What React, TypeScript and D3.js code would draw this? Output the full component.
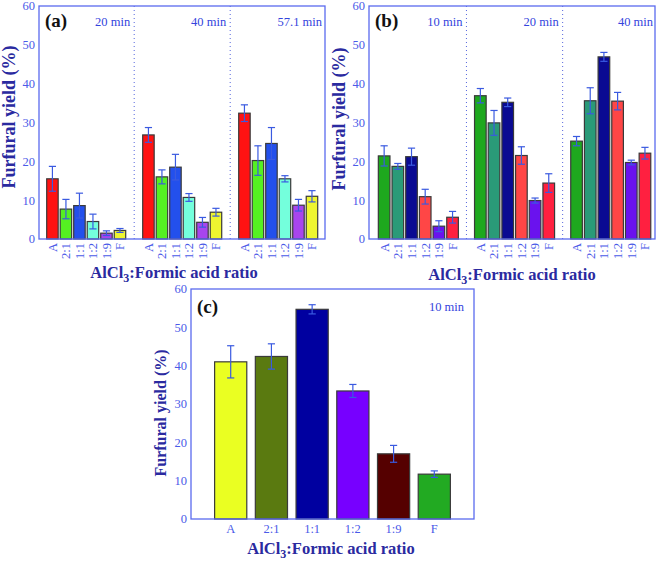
import React from "react";
import * as d3 from "d3";

const categories = ["A", "2:1", "1:1", "1:2", "1:9", "F"];
const yTicks = [0, 10, 20, 30, 40, 50, 60];

const aTimes = ["20 min", "40 min", "57.1 min"];
const aValues = [
  [15.5, 7.7, 8.6, 4.5, 1.5, 2.2],
  [26.8, 16.0, 18.5, 10.7, 4.3, 6.9],
  [32.4, 20.2, 24.6, 15.5, 8.7, 11.0],
];
const aErrors = [
  [3.2, 2.5, 3.2, 1.9, 0.6, 0.5],
  [1.9, 1.8, 3.3, 1.0, 1.25, 1.0],
  [2.15, 3.8, 4.1, 0.8, 1.5, 1.45],
];
const aColors = ["#ff1212", "#55f022", "#2350ec", "#74ffdc", "#a845ee", "#eef530"];

const bTimes = ["10 min", "20 min", "40 min"];
const bValues = [
  [21.4, 18.7, 21.2, 10.9, 3.3, 5.6],
  [36.9, 29.9, 35.2, 21.5, 9.9, 14.4],
  [25.2, 35.6, 46.9, 35.5, 19.7, 22.1],
];
const bErrors = [
  [2.6, 0.75, 2.2, 1.9, 1.4, 1.5],
  [1.85, 3.2, 1.1, 2.25, 0.65, 2.4],
  [1.2, 3.35, 1.15, 2.25, 0.6, 1.5],
];
const bColors = ["#1ea81e", "#2a9a78", "#0a0a92", "#ff4646", "#6a12ee", "#ff2040"];

const cTimes = ["10 min"];
const cValues = [[41.0, 42.4, 54.7, 33.4, 17.0, 11.7]];
const cErrors = [[4.2, 3.3, 1.2, 1.7, 2.2, 0.85]];
const cColors = ["#eaff22", "#5a7a10", "#0000a0", "#7700ff", "#550000", "#22aa22"];

const FONT = "Liberation Serif";
const TICK = "#4a5ae8";
const FRAME = "#5a6aee";
const TITLE = "#2a2aa0";
const ERR = "#3a5ae0";

type PanelProps = {
  x0: number; x1: number; y0: number; y1: number;
  groupRange: [number, number]; gPadIn: number; gPadOut: number;
  bPadIn: number; bPadOut: number;
  values: number[][]; errors: number[][]; colors: string[]; times: string[];
  label: string; labelX: number; labelY: number;
  rotated: boolean; titleX: number; titleY: number;
  yTitleX: number; yTitleY: number; yTitleSize: number; timeY: number; timePad: number;
};

const boldStyle = { fontFamily: FONT, fontWeight: 700 as const };

function Panel(p: PanelProps) {
  const y = d3.scaleLinear().domain([0, 60]).range([p.y1, p.y0]);
  const gx = d3.scaleBand<number>()
    .domain(p.values.map((_, i) => i))
    .range(p.groupRange)
    .paddingInner(p.gPadIn)
    .paddingOuter(p.gPadOut);
  const bx = d3.scaleBand<string>()
    .domain(categories)
    .range([0, gx.bandwidth()])
    .paddingInner(p.bPadIn)
    .paddingOuter(p.bPadOut);
  const bw = bx.bandwidth();
  const gap = gx.step() - gx.bandwidth();
  const cap = 3.6;
  return (
    <g style={{ fontFamily: FONT }}>
      {yTicks.map((t) => (
        <text key={t} x={p.x0 - 4} y={y(t)} dy="0.35em" textAnchor="end" fontSize={12.5} fill={TICK}>
          {t}
        </text>
      ))}
      {p.values.map((_, gi) =>
        gi > 0 ? (
          <line key={"d" + gi} x1={(gx(gi) as number) - gap / 2} x2={(gx(gi) as number) - gap / 2}
            y1={p.y0} y2={p.y1} stroke="#5566dd" strokeWidth={1} strokeDasharray="1,3" />
        ) : null
      )}
      {p.values.map((vals, gi) =>
        vals.map((v, ci) => {
          const cx = (gx(gi) as number) + (bx(categories[ci]) as number);
          const e = p.errors[gi][ci];
          const mid = cx + bw / 2;
          return (
            <g key={gi + "-" + ci}>
              <rect x={cx} y={y(v)} width={bw} height={y(0) - y(v)} fill={p.colors[ci]}
                stroke="#3a3a3a" strokeWidth={1.2} />
              <line x1={mid} x2={mid} y1={y(v + e)} y2={y(v - e)} stroke={ERR} strokeWidth={1.2} />
              <line x1={mid - cap} x2={mid + cap} y1={y(v + e)} y2={y(v + e)} stroke={ERR} strokeWidth={1.2} />
              <line x1={mid - cap} x2={mid + cap} y1={y(v - e)} y2={y(v - e)} stroke={ERR} strokeWidth={1.2} />
            </g>
          );
        })
      )}
      {p.values.map((_, gi) =>
        categories.map((c) => {
          const mid = (gx(gi) as number) + (bx(c) as number) + bw / 2;
          return p.rotated ? (
            <text key={"t" + gi + c} transform={`translate(${mid},${p.y1 + 4}) rotate(-90)`}
              textAnchor="end" dy="0.35em" fontSize={12.5} fill={TICK}>
              {c}
            </text>
          ) : (
            <text key={"t" + gi + c} x={mid} y={p.y1 + 14} textAnchor="middle" fontSize={12.5} fill={TICK}>
              {c}
            </text>
          );
        })
      )}
      {p.times.map((t, gi) => {
        const right = gi < p.times.length - 1 ? (gx(gi + 1) as number) - gap / 2 - 4 : p.x1 - p.timePad;
        return (
          <text key={"tm" + gi} x={right} y={p.timeY} textAnchor="end" fontSize={12.5} fill="#3344dd">
            {t}
          </text>
        );
      })}
      <rect x={p.x0} y={p.y0} width={p.x1 - p.x0} height={p.y1 - p.y0} fill="none" stroke={FRAME} strokeWidth={1.3} />
      <text x={p.labelX} y={p.labelY} fontSize={19} style={boldStyle} fill="#111">{p.label}</text>
      <text x={p.titleX} y={p.titleY} textAnchor="middle" fontSize={16.5} style={boldStyle} fill={TITLE}>
        AlCl<tspan fontSize={12} dy={4}>3</tspan><tspan dy={-4}>:Formic acid ratio</tspan>
      </text>
      <text transform={`translate(${p.yTitleX},${p.yTitleY}) rotate(-90)`} textAnchor="middle" dy="0.35em"
        fontSize={p.yTitleSize} style={boldStyle} fill={TITLE}>
        Furfural yield (%)
      </text>
    </g>
  );
}

export default function App() {
  return (
    <svg width={661} height={562} style={{ position: "absolute", left: 0, top: 0, background: "#fff" }}>
      <rect width={661} height={562} fill="#fff" />
      <Panel x0={39} x1={325} y0={6} y1={239}
        groupRange={[39.2, 325.2]} gPadIn={0.177} gPadOut={0.078} bPadIn={0.15} bPadOut={0}
        values={aValues} errors={aErrors} colors={aColors} times={aTimes}
        label="(a)" labelX={45} labelY={27} rotated={true} titleX={174} titleY={278}
        yTitleX={9} yTitleY={117} yTitleSize={18} timeY={26} timePad={3} />
      <Panel x0={369} x1={655} y0={6} y1={239}
        groupRange={[371.6, 657.5]} gPadIn={0.168} gPadOut={0.07} bPadIn={0.15} bPadOut={0}
        values={bValues} errors={bErrors} colors={bColors} times={bTimes}
        label="(b)" labelX={375} labelY={27} rotated={true} titleX={512} titleY={280}
        yTitleX={339} yTitleY={119} yTitleSize={18} timeY={26} timePad={2} />
      <Panel x0={191} x1={474} y0={289} y1={519}
        groupRange={[191, 474]} gPadIn={0} gPadOut={0} bPadIn={0.21} bPadOut={0.58}
        values={cValues} errors={cErrors} colors={cColors} times={cTimes}
        label="(c)" labelX={197} labelY={313} rotated={false} titleX={331} titleY={554}
        yTitleX={160} yTitleY={413} yTitleSize={16} timeY={311} timePad={10} />
    </svg>
  );
}
